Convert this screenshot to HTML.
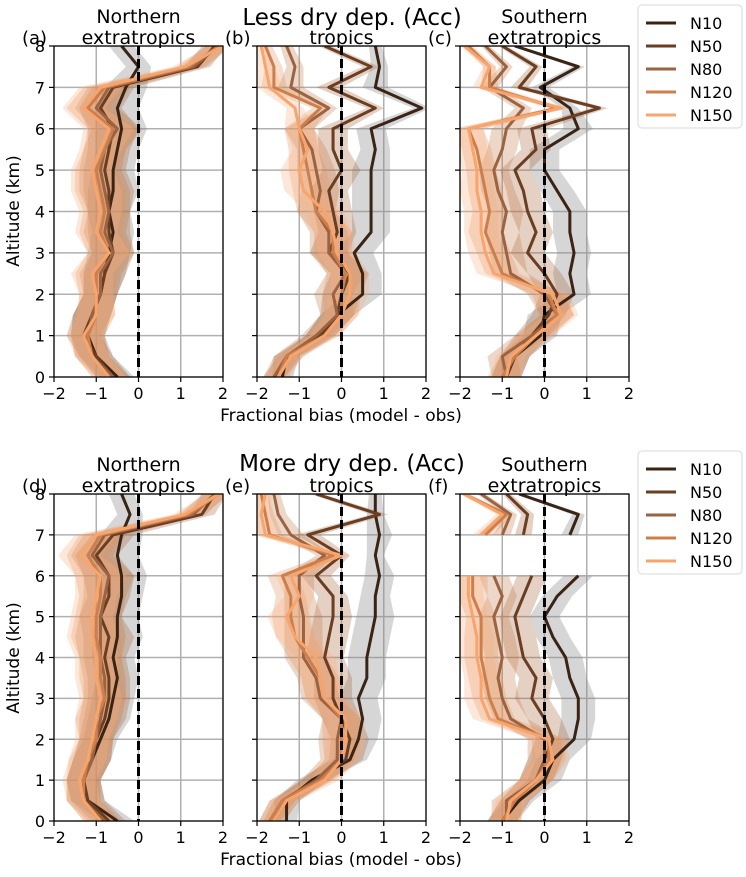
<!DOCTYPE html>
<html><head><meta charset="utf-8">
<style>
body{margin:0;background:#fff;}
svg{display:block;font-family:"DejaVu Sans","Liberation Sans",sans-serif;}
</style></head>
<body>
<svg id="chart" width="746" height="877" viewBox="0 0 746 877"></svg>
<script>
const altitudes=[0,0.5,1,1.5,2,2.5,3,3.5,4,4.5,5,5.5,6,6.5,7,7.5,8];
const seriesNames=["N10","N50","N80","N120","N150"];
const xTicks=[-2,-1,0,1,2];
const xTickLabels=["\u22122","\u22121","0","1","2"];
const yTicks=[0,1,2,3,4,5,6,7,8];
const panelA=[
[-0.5,-1.0,-1.2,-1.1,-0.9,-0.8,-0.7,-0.6,-0.7,-0.6,-0.6,-0.5,-0.4,-0.5,-0.3,0.0,-0.4],
[-0.6,-1.0,-1.3,-1.1,-0.9,-0.8,-0.6,-0.7,-0.7,-0.7,-0.8,-0.7,-0.6,-0.9,-0.6,1.4,1.8],
[-0.6,-1.1,-1.2,-1.1,-0.9,-0.9,-0.6,-0.8,-0.7,-0.8,-0.9,-0.8,-0.5,-1.0,-0.7,1.3,1.9],
[-0.7,-1.1,-1.2,-1.0,-1.0,-1.0,-0.7,-0.9,-0.8,-0.9,-1.0,-0.8,-0.6,-1.2,-0.8,1.2,1.9],
[-0.7,-1.1,-1.3,-1.0,-1.0,-1.1,-0.7,-1.0,-0.9,-1.0,-1.1,-0.9,-0.7,-1.3,-0.9,1.1,2.0]];
const panelB=[
[-1.4,-1.3,-0.5,-0.1,0.5,0.5,0.3,0.7,0.7,0.7,0.7,0.8,0.7,1.9,0.8,0.9,0.8],
[-1.6,-1.2,-0.5,-0.1,0.0,0.2,-0.3,-0.1,-0.2,-0.3,0.0,-0.2,-0.2,0.8,-0.3,0.7,-0.4],
[-1.6,-1.3,-0.6,-0.1,-0.2,0.1,-0.3,-0.3,-0.6,-0.5,-0.6,-0.7,-1.0,-0.3,-1.2,-1.1,-1.3],
[-1.5,-1.3,-0.4,0.0,0.0,0.1,-0.2,-0.2,-0.6,-0.7,-0.8,-0.9,-1.0,-0.5,-1.6,-1.6,-1.8],
[-1.5,-1.2,-0.4,0.0,0.2,0.2,-0.1,-0.2,-0.4,-0.9,-1.0,-0.8,-1.0,-1.1,-1.7,-1.8,-1.9]];
const panelC=[
[-0.9,-0.7,-0.1,0.0,0.7,0.6,0.7,0.6,0.6,0.3,0.0,0.0,0.8,0.6,-0.1,0.8,-0.7],
[-0.9,-0.7,-0.3,0.1,0.3,0.0,-0.4,-0.2,-0.4,-0.5,-0.7,-0.2,-0.3,1.3,-0.6,-0.2,-1.0],
[-0.9,-1.0,-0.3,0.3,0.0,-0.8,-0.9,-1.0,-0.9,-1.1,-1.2,-1.0,-0.9,-0.5,-1.3,-0.9,-1.4],
[-1.0,-0.7,-0.2,0.3,0.1,-1.0,-1.2,-1.4,-1.3,-1.4,-1.5,-1.6,-1.8,0.3,-1.3,-1.3,-1.8],
[-0.9,-0.8,-0.2,0.4,0.2,-1.2,-1.4,-1.5,-1.5,-1.6,-1.6,-1.7,-1.8,0.4,-1.5,-1.3,-1.9]];
const panelD=[
[-0.5,-1.2,-1.3,-1.1,-0.9,-0.7,-0.6,-0.5,-0.6,-0.5,-0.5,-0.4,-0.4,-0.5,-0.4,-0.2,-0.4],
[-0.7,-1.2,-1.3,-1.1,-1.0,-0.8,-0.7,-0.7,-0.8,-0.7,-0.9,-0.7,-0.7,-1.0,-0.6,1.5,1.8],
[-0.8,-1.3,-1.3,-1.1,-1.0,-0.9,-0.8,-0.8,-0.9,-0.9,-0.9,-0.8,-0.7,-1.1,-0.8,1.3,1.8],
[-0.9,-1.3,-1.3,-1.2,-1.0,-1.0,-0.8,-0.9,-0.9,-1.0,-1.0,-0.9,-0.9,-1.2,-0.9,1.2,1.9],
[-0.9,-1.3,-1.4,-1.2,-1.1,-1.0,-0.9,-1.0,-1.0,-1.1,-1.1,-1.0,-0.9,-1.4,-1.0,1.1,1.9]];
const panelE=[
[-1.3,-1.3,-0.7,0.2,0.4,0.5,0.4,0.6,0.6,0.7,0.8,0.8,0.9,0.8,0.9,0.8,0.8],
[-1.6,-1.3,-0.6,0.1,0.2,0.0,-0.2,-0.2,-0.4,-0.3,-0.2,-0.2,-0.6,0.0,-0.8,0.9,-0.6],
[-1.7,-1.4,-0.6,-0.1,-0.1,0.0,-0.5,-0.6,-0.9,-0.9,-0.9,-1.0,-1.0,-0.4,-1.2,-1.5,-1.6],
[-1.7,-1.4,-0.5,0.0,0.0,0.0,-0.4,-0.5,-0.8,-1.1,-1.2,-1.2,-1.4,-0.2,-1.7,-1.8,-1.9],
[-1.6,-1.3,-0.4,0.0,0.1,0.1,-0.4,-0.5,-0.6,-1.1,-1.3,-1.0,-1.2,0.0,-1.8,-1.9,-1.8]];
const panelF=[
[-1.0,-0.6,0.0,0.2,0.7,0.8,0.8,0.6,0.5,0.2,0.0,0.3,0.8,null,0.6,0.8,-0.6],
[-1.0,-0.7,-0.2,0.0,0.2,0.0,-0.3,-0.2,-0.5,-0.6,-0.7,-0.5,-0.3,null,-0.5,-0.4,-0.9],
[-0.9,-0.9,-0.2,0.0,0.0,-0.8,-1.0,-1.1,-1.0,-1.1,-1.2,-1.0,-1.2,null,-1.0,-0.8,-1.5],
[-1.0,-0.7,-0.2,0.1,0.1,-1.1,-1.3,-1.4,-1.5,-1.5,-1.5,-1.7,-1.7,null,-1.4,-0.9,-1.9],
[-0.9,-0.8,-0.2,0.2,0.1,-1.3,-1.5,-1.5,-1.6,-1.6,-1.7,-1.8,-1.8,null,-1.5,-1.0,-1.9]];
const spreadA=[0.4,0.4,0.4,0.45,0.4,0.5,0.5,0.5,0.5,0.6,0.5,0.5,0.6,0.5,0.5,0.3,0.3];
const spreadB=[0.25,0.3,0.35,0.4,0.45,0.45,0.45,0.45,0.45,0.45,0.45,0.35,0.35,0.2,0.3,0.2,0.15];
const spreadC=[0.35,0.35,0.4,0.4,0.4,0.4,0.4,0.4,0.4,0.4,0.35,0.35,0.35,0.2,0.2,0.15,0.1];
const spreadD=spreadA, spreadE=spreadB, spreadF=spreadC;

const colors=["#3a2415","#6a3e22","#9b6342","#cc7f4c","#f7a56c"];
const bandColors=["#8a8a8a","#a8653a","#c07a4a","#e0925e","#f8b182"];
const svg=document.getElementById('chart');
const NS="http://www.w3.org/2000/svg";
function mk(tag,attrs,parent){const e=document.createElementNS(NS,tag);for(const k in attrs)e.setAttribute(k,attrs[k]);(parent||svg).appendChild(e);return e;}
function txt(s,attrs,parent){const e=mk('text',attrs,parent);e.textContent=s;return e;}

const panels=[
 {id:'a',data:panelA,spread:spreadA,x0:54,y0:46,y1:377,l1:'Northern',l2:'extratropics'},
 {id:'b',data:panelB,spread:spreadB,x0:257,y0:46,y1:377,l1:'',l2:'tropics'},
 {id:'c',data:panelC,spread:spreadC,x0:460,y0:46,y1:377,l1:'Southern',l2:'extratropics'},
 {id:'d',data:panelD,spread:spreadD,x0:54,y0:494,y1:821,l1:'Northern',l2:'extratropics'},
 {id:'e',data:panelE,spread:spreadE,x0:257,y0:494,y1:821,l1:'',l2:'tropics'},
 {id:'f',data:panelF,spread:spreadF,x0:460,y0:494,y1:821,l1:'Southern',l2:'extratropics'}];
const W=169;
panels.forEach((p,pi)=>{
  const g=mk('g',{});
  
  
  const xs=v=>p.x0+(v+2)/4*W;
  const ys=v=>p.y1-(v/8)*(p.y1-p.y0);
  const cid='clip'+p.id;
  const cp=mk('clipPath',{id:cid},g);mk('rect',{x:p.x0,y:p.y0,width:W,height:p.y1-p.y0},cp);
  xTicks.forEach(t=>{const l=mk('line',{x1:xs(t),x2:xs(t),y1:p.y0,y2:p.y1,stroke:'#b0b0b0','stroke-width':1.5},g);});
  yTicks.forEach(t=>{const l=mk('line',{x1:p.x0,x2:p.x0+W,y1:ys(t),y2:ys(t),stroke:'#b0b0b0','stroke-width':1.5},g);});
  const cg=mk('g',{'clip-path':'url(#'+cid+')'},g);
  p.data.forEach((ser,si)=>{
    let segs=[],cur=[];
    ser.forEach((v,i)=>{if(v===null){if(cur.length)segs.push(cur);cur=[];}else cur.push(i);});
    if(cur.length)segs.push(cur);
    segs.forEach(seg=>{
      const up=seg.map(i=>xs(ser[i]+p.spread[i])+','+ys(altitudes[i]));
      const dn=seg.slice().reverse().map(i=>xs(ser[i]-p.spread[i])+','+ys(altitudes[i]));
      const b=mk('polygon',{points:up.concat(dn).join(' '),fill:bandColors[si],'fill-opacity':si===0?0.35:0.3},cg);
      
      
    });
  });
  const z=mk('line',{x1:xs(0),x2:xs(0),y1:p.y0,y2:p.y1,stroke:'#000','stroke-width':3,'stroke-dasharray':'9,4'},g);
  
  p.data.forEach((ser,si)=>{
    let d='',pen=false;
    ser.forEach((v,i)=>{if(v===null){pen=false;return;}d+=(pen?'L':'M')+xs(v)+','+ys(altitudes[i]);pen=true;});
    const l=mk('path',{d:d,fill:'none',stroke:colors[si],'stroke-width':3,'stroke-linejoin':'round'},cg);
    
    
  });
  const fr=mk('rect',{x:p.x0,y:p.y0,width:W,height:p.y1-p.y0,fill:'none',stroke:'#000','stroke-width':1.2},g);
  
  xTicks.forEach((t,i)=>{
    mk('line',{x1:xs(t),x2:xs(t),y1:p.y1,y2:p.y1+5,stroke:'#000','stroke-width':1.2},g);
    const tl=txt(xTickLabels[i],{x:xs(t),y:p.y1+22,'text-anchor':'middle','font-size':16},g);
    
  });
  yTicks.forEach(t=>{
    mk('line',{x1:p.x0-5,x2:p.x0,y1:ys(t),y2:ys(t),stroke:'#000','stroke-width':1.2},g);
    if(pi%3===0){const tl=txt(String(t),{x:p.x0-9,y:ys(t)+6,'text-anchor':'end','font-size':16},g);
      }
  });
  const pl=txt('('+p.id+')',{x:p.x0-32,y:p.y0-2,'font-size':18},g);
  
  if(p.l1){const s1=txt(p.l1,{x:p.x0+W/2,y:p.y0-23,'text-anchor':'middle','font-size':19},g);
    }
  const s2=txt(p.l2,{x:p.x0+W/2,y:p.y0-2,'text-anchor':'middle','font-size':19},g);
  
});
[['Less dry dep. (Acc)',25,'title-top'],['More dry dep. (Acc)',471,'title-bottom']].forEach(a=>{
  const t=txt(a[0],{x:352,y:a[1],'text-anchor':'middle','font-size':23});
  
});
[[211,'y-axis-title-top'],[658,'y-axis-title-bottom']].forEach(a=>{
  const t=txt('Altitude (km)',{x:19,y:a[0],'text-anchor':'middle','font-size':17,transform:'rotate(-90 19 '+a[0]+')'});
  
});
[[421,'x-axis-title-top'],[865,'x-axis-title-bottom']].forEach(a=>{
  const t=txt('Fractional bias (model - obs)',{x:341,y:a[0],'text-anchor':'middle','font-size':17});
  
});
[5,451].forEach((ly,k)=>{
  const g=mk('g',{});
  
  
  mk('rect',{x:638,y:ly,width:104,height:123,rx:4,fill:'#fff',stroke:'#d8d8d8','stroke-width':1},g);
  seriesNames.forEach((n,i)=>{
    const e=mk('g',{},g);
    
    
    const yy=ly+18+i*23;
    mk('line',{x1:646,x2:676,y1:yy,y2:yy,stroke:colors[i],'stroke-width':3},e);
    txt(n,{x:690,y:yy+6,'font-size':16},e);
  });
});
</script>
</body></html>
